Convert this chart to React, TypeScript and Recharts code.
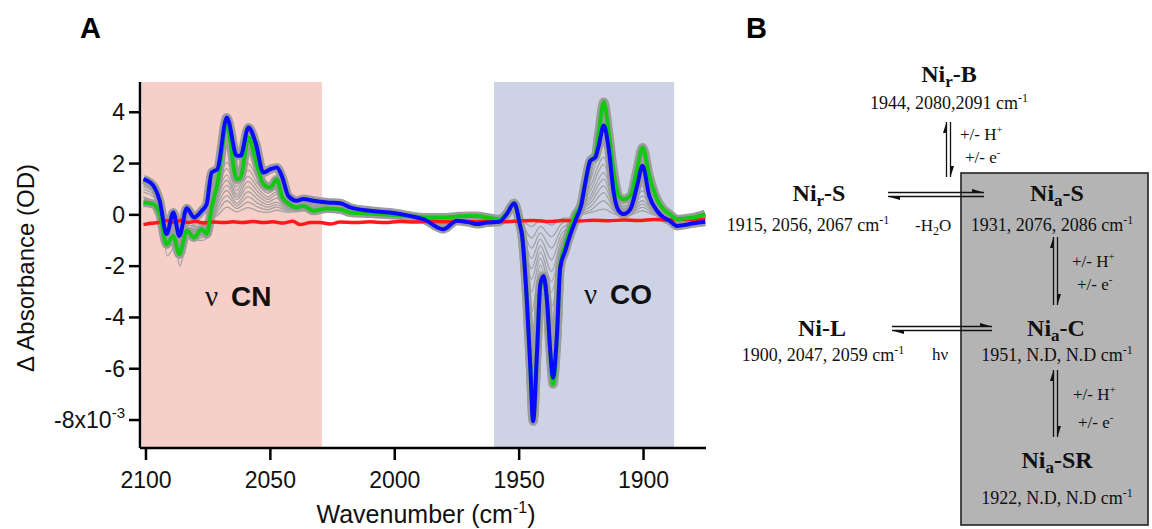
import React from "react";
import { LineChart, Line, XAxis, YAxis, ReferenceArea } from "recharts";

// wavenumber grid for the two final spectra (cm-1, descending)
const wavenumbers = [
  2101, 2097, 2094.5, 2091.7, 2089, 2086.6, 2083.6, 2080.7, 2077.6, 2075.6,
  2073.6, 2071.3, 2067.5, 2063.5, 2062, 2058.8, 2056, 2052.8, 2050, 2047.4,
  2045.2, 2042.8, 2039.5, 2036.7, 2032.7, 2027, 2022, 2018, 2010, 2002,
  1994, 1988.5, 1980.5, 1975, 1969.7, 1967, 1963, 1958, 1955, 1952,
  1949.6, 1948.9, 1946.9, 1945.5, 1944.4, 1942.8, 1941.5, 1940.2, 1938.8, 1937.5,
  1936.4, 1934.8, 1933.5, 1931.5, 1929.4, 1927.4, 1925, 1923.4, 1921.4, 1919.4,
  1918, 1916, 1914, 1912, 1910, 1908, 1905.3, 1902.6, 1900.4, 1897.7,
  1894.6, 1892, 1889.5, 1886.6, 1884, 1880, 1875.2,
];

// ΔA x10^-3
const blueSpectrum = [
  1.39, 1.13, 0.55, -0.75, 0.09, -0.82, 0.26, -0.1, 0.16, 0.42,
  1.65, 1.78, 3.8, 2.3, 2.3, 3.41, 2.83, 1.65, 1.78, 1.85,
  1.46, 0.74, 0.55, 0.62, 0.55, 0.48, 0.45, 0.29, 0.16, 0.09,
  -0.04, -0.17, -0.56, -0.23, -0.3, -0.36, -0.3, -0.27, 0.03, 0.45,
  -0.43, -0.75, -3.36, -5.96, -8.05, -5.31, -2.71, -2.38, -3.36, -5.31,
  -6.35, -4.66, -2.06, -1.41, -0.75, -0.23, 0.4, 1.26, 2.11, 2.24,
  2.7, 3.48, 2.57, 0.87, 0.16, 0.03, 0.22, 1.13, 1.91, 0.74,
  0.16, -0.1, -0.23, -0.43, -0.4, -0.33, -0.27,
];

const greenSpectrum = [
  0.48, 0.42, 0.03, -1.15, -0.82, -1.54, -0.62, -0.88, -0.56, -0.75,
  0.29, 1.2, 3.48, 1.39, 1.45, 3.02, 2.17, 1.2, 1.07, 1.39,
  0.68, 0.45, 0.29, 0.35, 0.16, 0.25, 0.22, 0.09, 0.05, 0.0,
  -0.04, -0.1, -0.1, -0.06, -0.04, -0.04, -0.1, -0.17, 0.05, 0.45,
  -0.4, -0.75, -3.3, -5.9, -8.0, -5.3, -2.8, -2.45, -3.4, -5.4,
  -6.6, -4.8, -2.0, -1.2, -0.5, 0.0, 0.45, 1.26, 2.11, 2.3,
  3.2, 4.4, 3.21, 1.65, 0.74, 0.61, 0.74, 1.78, 2.63, 1.52,
  0.61, 0.22, 0.03, -0.17, -0.15, -0.1, 0.03,
];

const redWn = [
  2101, 2098, 2095, 2092, 2089, 2086, 2083, 2080, 2077, 2073, 2069, 2065, 2061, 2057, 2053, 2049,
  2045, 2041, 2038, 2034, 2030, 2026, 2022, 2016, 2010, 2004, 1998, 1992, 1986, 1980, 1974, 1968,
  1962, 1956, 1950, 1944, 1938, 1932, 1926, 1920, 1914, 1908, 1902, 1896, 1890, 1884, 1880, 1875.2,
];
const redSpectrum = [
  -0.38, -0.33, -0.3, -0.22, -0.3, -0.22, -0.3, -0.25, -0.32, -0.28, -0.3, -0.27, -0.3, -0.26, -0.3, -0.27,
  -0.32, -0.25, -0.38, -0.3, -0.3, -0.36, -0.28, -0.3, -0.27, -0.3, -0.26, -0.28, -0.25, -0.27, -0.24, -0.27,
  -0.25, -0.27, -0.24, -0.22, -0.26, -0.22, -0.24, -0.21, -0.23, -0.2, -0.22, -0.18, -0.2, -0.17, -0.2, -0.17,
];

// intermediate spectra (grey)
const greyWn = [
  2101, 2094, 2091.5, 2088, 2086.5, 2083, 2078, 2074, 2071, 2067.5,
  2063.5, 2059, 2055, 2051, 2047.5, 2043, 2037, 2028, 2015, 2000,
  1988, 1981, 1972, 1962, 1956, 1952, 1949, 1945, 1941.5, 1937,
  1933, 1929, 1925, 1921, 1916, 1912, 1908, 1905, 1900.5, 1896,
  1891, 1885, 1875.2,
];
const grey1 = [0.9, 0.4, -0.9, -0.6, -1.2, -0.4, -0.5, -0.2, 0.0, 0.3, 0.12, 0.28, 0.15, 0.1, 0.18, 0.1, 0.15, 0.2, 0.15, 0.05, -0.05, -0.3, -0.15, -0.15, -0.1, 0.2, -0.15, -0.45, -0.2, -0.4, -0.15, -0.1, 0.0, 0.1, 0.22, 0.05, -0.05, 0.0, 0.16, 0.0, -0.05, -0.1, -0.05];
const grey2 = [1.0, 0.5, -1.0, -0.7, -1.3, -0.5, -0.6, -0.3, 0.15, 0.55, 0.25, 0.5, 0.3, 0.2, 0.3, 0.15, 0.2, 0.22, 0.12, 0.02, -0.1, -0.35, -0.2, -0.2, -0.15, 0.25, -0.3, -0.9, -0.45, -0.85, -0.35, -0.2, 0.05, 0.2, 0.55, 0.15, 0.0, 0.05, 0.29, 0.05, -0.05, -0.12, -0.08];
const grey3 = [1.1, 0.6, -1.1, -0.75, -1.4, -0.55, -0.65, -0.4, 0.3, 0.75, 0.35, 0.7, 0.45, 0.3, 0.4, 0.2, 0.25, 0.25, 0.1, 0.0, -0.12, -0.4, -0.22, -0.22, -0.15, 0.3, -0.4, -1.3, -0.7, -1.3, -0.55, -0.3, 0.1, 0.35, 0.87, 0.25, 0.05, 0.1, 0.42, 0.1, -0.05, -0.15, -0.1];
const grey4 = [1.15, 0.6, -1.0, -0.7, -1.45, -0.55, -0.7, -0.45, 0.45, 0.95, 0.45, 0.9, 0.6, 0.4, 0.5, 0.25, 0.3, 0.28, 0.12, 0.02, -0.1, -0.45, -0.2, -0.2, -0.1, 0.35, -0.5, -1.7, -0.95, -1.75, -0.75, -0.4, 0.15, 0.5, 1.13, 0.35, 0.1, 0.15, 0.55, 0.15, 0.0, -0.12, -0.05];
const grey5 = [1.2, 0.65, -0.95, -0.6, -1.4, -0.5, -0.65, -0.4, 0.6, 1.15, 0.6, 1.1, 0.75, 0.5, 0.65, 0.3, 0.35, 0.3, 0.15, 0.05, -0.08, -0.4, -0.18, -0.2, -0.1, 0.4, -0.6, -2.1, -1.2, -2.2, -0.95, -0.45, 0.2, 0.65, 1.39, 0.45, 0.15, 0.2, 0.74, 0.2, 0.0, -0.1, -0.05];
const grey6 = [1.25, 0.7, -0.9, -0.5, -1.3, -0.4, -0.6, -0.3, 0.75, 1.35, 0.7, 1.3, 0.9, 0.6, 0.8, 0.35, 0.4, 0.35, 0.2, 0.08, -0.05, -0.38, -0.15, -0.18, -0.05, 0.42, -0.7, -2.5, -1.45, -2.6, -1.15, -0.55, 0.25, 0.8, 1.65, 0.55, 0.2, 0.25, 0.94, 0.25, 0.02, -0.1, -0.03];
const grey7 = [1.3, 0.75, -0.85, -0.4, -1.2, -0.3, -0.5, -0.2, 0.9, 1.55, 0.8, 1.5, 1.05, 0.7, 0.9, 0.4, 0.45, 0.38, 0.22, 0.1, -0.02, -0.35, -0.12, -0.15, 0.0, 0.45, -0.75, -3.0, -1.7, -3.0, -1.3, -0.6, 0.3, 1.0, 1.98, 0.65, 0.25, 0.3, 1.13, 0.3, 0.05, -0.08, 0.0];
const grey8 = [1.35, 0.8, -0.8, -0.3, -1.1, -0.2, -0.4, -0.1, 1.05, 1.8, 0.95, 1.75, 1.2, 0.85, 1.0, 0.45, 0.5, 0.4, 0.24, 0.1, 0.0, -0.32, -0.1, -0.12, 0.02, 0.45, -0.8, -3.8, -1.95, -3.6, -1.5, -0.65, 0.33, 1.2, 2.24, 0.75, 0.3, 0.35, 1.4, 0.35, 0.05, -0.08, 0.0];
const grey9 = [1.4, 0.85, -0.75, -0.2, -1.0, -0.1, -0.3, 0.0, 1.2, 2.05, 1.1, 2.0, 1.4, 0.95, 1.15, 0.5, 0.55, 0.45, 0.25, 0.1, -0.02, -0.35, -0.12, -0.12, 0.0, 0.45, -0.8, -4.8, -2.2, -4.3, -1.7, -0.7, 0.35, 1.45, 2.7, 0.9, 0.35, 0.45, 1.7, 0.45, 0.1, -0.05, 0.02];
const grey10 = [1.2, 0.7, -1.3, -1.0, -1.7, -0.7, -0.9, -0.6, 1.3, 2.6, 1.25, 2.4, 1.7, 1.05, 1.25, 0.55, 0.5, 0.35, 0.15, 0.0, -0.15, -0.5, -0.25, -0.25, -0.1, 0.45, -0.7, -6.0, -2.5, -5.2, -1.9, -0.6, 0.4, 1.8, 3.3, 1.2, 0.45, 0.55, 2.1, 0.55, 0.1, -0.1, 0.0];
const grey11 = [0.7, 0.2, -1.6, -1.2, -2.0, -0.9, -1.0, -0.8, 1.1, 3.0, 1.35, 2.8, 2.0, 1.1, 1.35, 0.55, 0.3, 0.15, 0.0, -0.1, -0.25, -0.6, -0.3, -0.3, -0.2, 0.45, -0.6, -7.0, -2.6, -5.9, -2.0, -0.5, 0.45, 2.0, 3.9, 1.4, 0.55, 0.65, 2.4, 0.6, 0.1, -0.15, -0.05];
const greySpectra = [grey1, grey2, grey3, grey4, grey5, grey6, grey7, grey8, grey9, grey10, grey11];

const xTicks = [2100, 2050, 2000, 1950, 1900];
const yTicks = [4, 2, 0, -2, -4, -6, -8];
const cnRange = [2101.6, 2029.3];
const coRange = [1960.1, 1887.7];

const SANS = '"Liberation Sans", Arial, sans-serif';
const SERIF = '"Liberation Serif", "Times New Roman", serif';

const toPoints = (wn: number[], vals: number[]) => wn.map((w, i) => ({ wn: w, v: vals[i] }));

function XTick({ x, y, payload }: any) {
  return (
    <text x={x} y={y} dy={24} textAnchor="middle" fontSize={23} fontFamily={SANS} fill="#111">
      {payload.value}
    </text>
  );
}

function YTick({ x, y, payload }: any) {
  const v = payload.value;
  return (
    <text x={x} y={y} dy={8} textAnchor="end" fontSize={23} fontFamily={SANS} fill="#111">
      {v === -8 ? (
        <>
          -8x10<tspan dy={-10} fontSize={15}>-3</tspan>
        </>
      ) : (
        v
      )}
    </text>
  );
}

function VerticalEq({ xl, xr, y1, y2 }: { xl: number; xr: number; y1: number; y2: number }) {
  return (
    <g stroke="#111" fill="#111">
      <line x1={xl} y1={y1} x2={xl} y2={y2} strokeWidth={1.3} />
      <line x1={xr} y1={y1} x2={xr} y2={y2} strokeWidth={1.3} />
      <polygon points={`${xl},${y1} ${xl - 3.5},${y1 + 11} ${xl},${y1 + 11}`} stroke="none" />
      <polygon points={`${xr},${y2} ${xr + 3.5},${y2 - 11} ${xr},${y2 - 11}`} stroke="none" />
    </g>
  );
}

function HorizontalEq({ x1, x2, yt, yb }: { x1: number; x2: number; yt: number; yb: number }) {
  return (
    <g stroke="#111" fill="#111">
      <line x1={x1} y1={yt} x2={x2} y2={yt} strokeWidth={1.3} />
      <line x1={x1} y1={yb} x2={x2} y2={yb} strokeWidth={1.3} />
      <polygon points={`${x2},${yt} ${x2 - 12},${yt - 3.5} ${x2 - 12},${yt}`} stroke="none" />
      <polygon points={`${x1},${yb} ${x1 + 12},${yb + 3.5} ${x1 + 12},${yb}`} stroke="none" />
    </g>
  );
}

function Species({ x, y, base, sub, tail }: { x: number; y: number; base: string; sub?: string; tail: string }) {
  return (
    <text x={x} y={y} textAnchor="middle" fontFamily={SERIF} fontWeight="bold" fontSize={24} fill="#111">
      {base}
      {sub ? (
        <tspan dy={5} fontSize={17}>
          {sub}
        </tspan>
      ) : null}
      <tspan dy={sub ? -5 : 0}>{tail}</tspan>
    </text>
  );
}

function Freq({ x, y, label }: { x: number; y: number; label: string }) {
  return (
    <text x={x} y={y} textAnchor="middle" fontFamily={SERIF} fontSize={18} fill="#111">
      {label} cm<tspan dy={-7} fontSize={12}>-1</tspan>
    </text>
  );
}

function Step({ x, y, ion }: { x: number; y: number; ion: string }) {
  return (
    <text x={x} y={y} fontFamily={SERIF} fontSize={17} fill="#111">
      +/- {ion === "H" ? "H" : "e"}
      <tspan dy={-7} fontSize={11}>
        {ion === "H" ? "+" : "-"}
      </tspan>
    </text>
  );
}

export default function App() {
  return (
    <div style={{ position: "absolute", left: 0, top: 0, width: 1152, height: 529, background: "#fff" }}>
      <div style={{ position: "absolute", left: 0, top: 0 }}>
        <LineChart width={720} height={529} margin={{ top: 82, right: 14, bottom: 21, left: 0 }}>
          <XAxis
            dataKey="wn"
            type="number"
            domain={[1874.9, 2102.4]}
            reversed
            allowDataOverflow
            ticks={xTicks}
            interval={0}
            height={60}
            tickSize={12}
            tickMargin={4}
            axisLine={{ stroke: "#000", strokeWidth: 2.5 }}
            tickLine={{ stroke: "#000", strokeWidth: 2.5 }}
            tick={<XTick />}
          />
          <YAxis
            type="number"
            domain={[-9.09, 5.18]}
            allowDataOverflow
            ticks={yTicks}
            interval={0}
            width={140}
            tickSize={11}
            tickMargin={4}
            axisLine={{ stroke: "#000", strokeWidth: 2.5 }}
            tickLine={{ stroke: "#000", strokeWidth: 2.5 }}
            tick={<YTick />}
          />
          <ReferenceArea x1={cnRange[0]} x2={cnRange[1]} fill="#f5cfc8" fillOpacity={1} stroke="none" ifOverflow="hidden" />
          <ReferenceArea x1={coRange[0]} x2={coRange[1]} fill="#cdd2e5" fillOpacity={1} stroke="none" ifOverflow="hidden" />
          {greySpectra.map((g, i) => (
            <Line
              key={`grey${i}`}
              data={toPoints(greyWn, g)}
              dataKey="v"
              type="monotone"
              stroke="#a3a3a3"
              strokeWidth={1.3}
              dot={false}
              isAnimationActive={false}
            />
          ))}
          <Line data={toPoints(wavenumbers, greenSpectrum)} dataKey="v" type="monotone" stroke="#9c9c9c" strokeWidth={9} dot={false} isAnimationActive={false} />
          <Line data={toPoints(wavenumbers, blueSpectrum)} dataKey="v" type="monotone" stroke="#9c9c9c" strokeWidth={9} dot={false} isAnimationActive={false} />
          <Line data={toPoints(redWn, redSpectrum)} dataKey="v" type="monotone" stroke="#ff1a1a" strokeWidth={3.5} dot={false} isAnimationActive={false} />
          <Line data={toPoints(wavenumbers, greenSpectrum)} dataKey="v" type="monotone" stroke="#12c812" strokeWidth={4} dot={false} isAnimationActive={false} />
          <Line data={toPoints(wavenumbers, blueSpectrum)} dataKey="v" type="monotone" stroke="#0a0aff" strokeWidth={4} dot={false} isAnimationActive={false} />
        </LineChart>
      </div>
      <svg width={1152} height={529} style={{ position: "absolute", left: 0, top: 0, pointerEvents: "none" }}>
        <text x={80} y={38} fontFamily={SANS} fontWeight="bold" fontSize={29} fill="#000">A</text>
        <text x={746} y={38} fontFamily={SANS} fontWeight="bold" fontSize={29} fill="#000">B</text>
        <text transform="translate(34,268) rotate(-90)" textAnchor="middle" fontFamily={SANS} fontSize={24} fill="#111">
          Δ Absorbance (OD)
        </text>
        <text x={426} y={523} textAnchor="middle" fontFamily={SANS} fontSize={25} fill="#111">
          Wavenumber (cm<tspan dy={-10} fontSize={16}>-1</tspan>
          <tspan dy={10}>)</tspan>
        </text>
        <text x={205} y={306} fontFamily={SERIF} fontSize={29} fill="#111">ν</text>
        <text x={231} y={306} fontFamily={SANS} fontWeight="bold" fontSize={28} fill="#111">CN</text>
        <text x={584} y={304} fontFamily={SERIF} fontSize={29} fill="#111">ν</text>
        <text x={610} y={304} fontFamily={SANS} fontWeight="bold" fontSize={28} fill="#111">CO</text>

        <rect x={961} y={173} width={187} height={352} fill="#b4b4b4" stroke="#222" strokeWidth={1.6} />

        <Species x={949} y={82} base="Ni" sub="r" tail="-B" />
        <Freq x={949} y={109} label="1944, 2080,2091" />
        <VerticalEq xl={946.5} xr={950.5} y1={122} y2={177} />
        <Step x={960} y={140} ion="H" />
        <Step x={965} y={163} ion="e" />

        <Species x={819} y={201} base="Ni" sub="r" tail="-S" />
        <Freq x={808} y={231} label="1915, 2056, 2067" />
        <HorizontalEq x1={888} x2={984} yt={192.5} yb={196.5} />
        <text x={915} y={231} fontFamily={SERIF} fontSize={17} fill="#111">
          -H<tspan dy={4} fontSize={12}>2</tspan>
          <tspan dy={-4}>O</tspan>
        </text>

        <Species x={1057} y={201} base="Ni" sub="a" tail="-S" />
        <Freq x={1052} y={231} label="1931, 2076, 2086" />
        <VerticalEq xl={1053.5} xr={1057.5} y1={237} y2={305} />
        <Step x={1072} y={267} ion="H" />
        <Step x={1077} y={290} ion="e" />

        <Species x={822} y={336} base="Ni-L" tail="" />
        <Freq x={823} y={361} label="1900, 2047, 2059" />
        <HorizontalEq x1={892} x2={992} yt={326.5} yb={330.5} />
        <text x={932} y={360} fontFamily={SERIF} fontSize={17} fill="#111">hν</text>

        <Species x={1056} y={336} base="Ni" sub="a" tail="-C" />
        <Freq x={1057} y={361} label="1951, N.D, N.D" />
        <VerticalEq xl={1053.5} xr={1057.5} y1={370} y2={437} />
        <Step x={1073} y={400} ion="H" />
        <Step x={1078} y={428} ion="e" />

        <Species x={1057} y={468} base="Ni" sub="a" tail="-SR" />
        <Freq x={1057} y={504} label="1922, N.D, N.D" />
      </svg>
    </div>
  );
}
